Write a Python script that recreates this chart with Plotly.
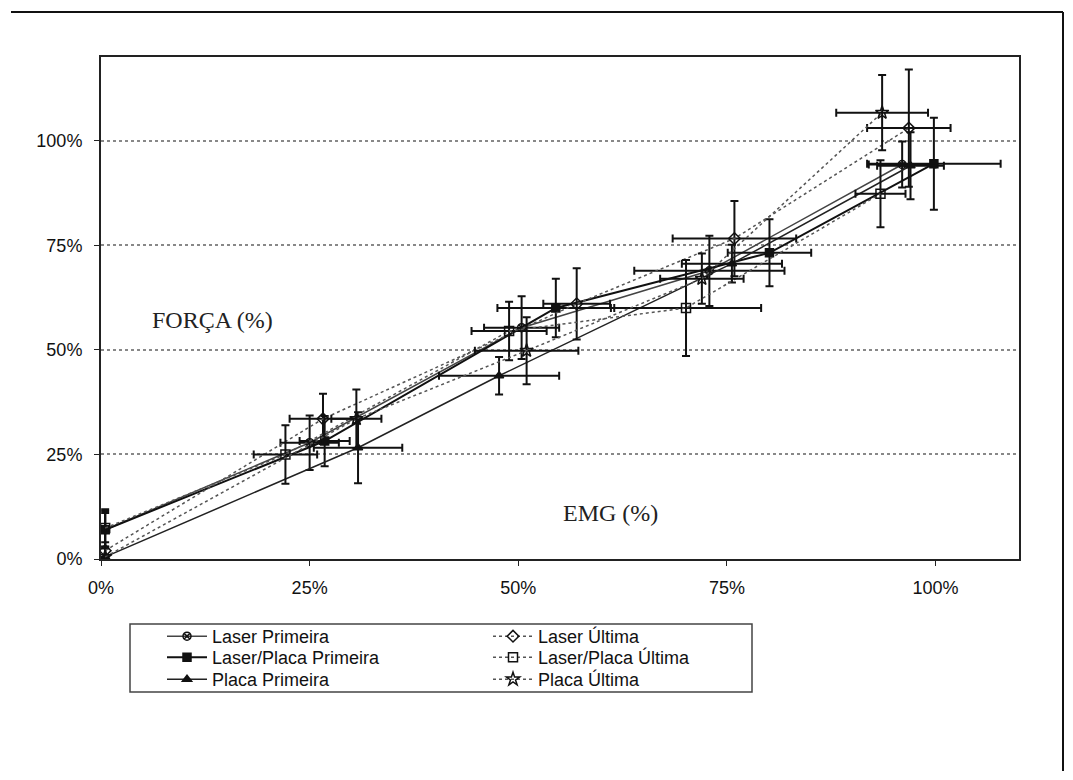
import plotly.graph_objects as go

# ---- data (percent) ----
series_names = ["Laser Primeira", "Laser/Placa Primeira", "Placa Primeira",
                "Laser Última", "Laser/Placa Última", "Placa Última"]

lp_x = [0.5, 25.0, 50.4, 72.9, 96.0]
lp_y = [7.0, 27.8, 55.3, 68.9, 94.3]
lp_xerr = [0.0, 3.5, 4.5, 9.0, 4.0]
lp_yerr = [4.0, 6.5, 7.5, 8.4, 5.5]

lpp_x = [0.5, 26.8, 54.5, 80.1, 99.8]
lpp_y = [7.0, 28.2, 60.0, 73.2, 94.5]
lpp_xerr = [0.0, 3.0, 7.0, 5.0, 8.0]
lpp_yerr = [4.5, 6.0, 7.0, 8.0, 11.0]

pp_x = [0.5, 30.8, 47.7, 75.6, 97.0]
pp_y = [0.5, 26.6, 43.8, 70.6, 94.0]
pp_xerr = [0.0, 5.3, 7.2, 6.0, 4.0]
pp_yerr = [0.0, 8.5, 4.5, 4.5, 8.0]

lu_x = [0.5, 26.6, 57.0, 75.9, 96.8]
lu_y = [2.0, 33.5, 61.0, 76.6, 103.0]
lu_xerr = [0.0, 4.0, 4.0, 7.4, 5.0]
lu_yerr = [2.0, 6.0, 8.5, 9.0, 14.0]

lpu_x = [0.5, 22.1, 48.9, 70.1, 93.4]
lpu_y = [7.4, 25.0, 54.5, 60.0, 87.3]
lpu_xerr = [0.0, 3.8, 4.5, 9.0, 3.0]
lpu_yerr = [4.5, 7.0, 7.0, 11.5, 8.0]

pu_x = [0.5, 30.6, 51.0, 72.0, 93.6]
pu_y = [0.5, 33.5, 49.8, 67.0, 106.7]
pu_xerr = [0.0, 3.0, 6.2, 5.0, 5.5]
pu_yerr = [0.0, 7.0, 8.0, 6.0, 9.0]

tick_vals = [0, 25, 50, 75, 100]
tick_labels = ["0%", "25%", "50%", "75%", "100%"]

# ---- figure geometry (page has an 8px body margin) ----
OFF = 8
W, H = 1073 - 2 * OFF, 780 - 2 * OFF
L = 101 - OFF
T = 57 - OFF
R = W - (1019 - OFF)
B = H - (559 - OFF)
pw, ph = W - L - R, H - T - B


def px_to_paper_x(px):
    return (px - OFF - L) / pw


def px_to_paper_y(py):
    return (H - B - (py - OFF)) / ph


fig = go.Figure()

# name, x, y, xerr, yerr, symbol, size, dash, line colour, width, legend id
styles = [
    (series_names[0], lp_x, lp_y, lp_xerr, lp_yerr, "circle-x-open", 8, "solid", "#444", 1.5, "legend"),
    (series_names[1], lpp_x, lpp_y, lpp_xerr, lpp_yerr, "square", 8, "solid", "#111", 2, "legend2"),
    (series_names[2], pp_x, pp_y, pp_xerr, pp_yerr, "triangle-up", 8, "solid", "#222", 1.5, "legend3"),
    (series_names[3], lu_x, lu_y, lu_xerr, lu_yerr, "diamond-open", 9, "dot", "#555", 1.5, "legend4"),
    (series_names[4], lpu_x, lpu_y, lpu_xerr, lpu_yerr, "square-open", 9, "dot", "#555", 1.5, "legend5"),
    (series_names[5], pu_x, pu_y, pu_xerr, pu_yerr, "star-open", 10, "dot", "#555", 1.5, "legend6"),
]

for name, xs, ys, xe, ye, sym, size, dash, col, lw, leg in styles:
    fig.add_trace(go.Scatter(
        x=xs, y=ys, name=name, mode="lines+markers", legend=leg,
        showlegend=True,
        line=dict(color=col, width=lw, dash=dash),
        marker=dict(symbol=sym, size=size, color="#111",
                    line=dict(color="#111", width=1.5)),
        error_x=dict(type="data", array=xe, visible=True, color="#111",
                     thickness=2, width=4),
        error_y=dict(type="data", array=ye, visible=True, color="#111",
                     thickness=2, width=4),
    ))

fig.add_annotation(x=13.4, y=57.2, xref="x", yref="y", text="FORÇA (%)",
                   showarrow=False,
                   font=dict(family="Liberation Serif", size=24, color="#222"))
fig.add_annotation(x=61.0, y=11.0, xref="x", yref="y", text="EMG (%)",
                   showarrow=False,
                   font=dict(family="Liberation Serif", size=24, color="#222"))

# outer frame lines and legend box
fig.add_shape(type="line", xref="paper", yref="paper",
              x0=px_to_paper_x(11), x1=px_to_paper_x(1063),
              y0=px_to_paper_y(12), y1=px_to_paper_y(12),
              line=dict(color="#111", width=2))
fig.add_shape(type="line", xref="paper", yref="paper",
              x0=px_to_paper_x(1063), x1=px_to_paper_x(1063),
              y0=px_to_paper_y(12), y1=px_to_paper_y(771),
              line=dict(color="#111", width=2))
fig.add_shape(type="rect", xref="paper", yref="paper",
              x0=px_to_paper_x(130), x1=px_to_paper_x(752),
              y0=px_to_paper_y(624), y1=px_to_paper_y(692),
              line=dict(color="#444", width=1.5))

legend_font = dict(family="Liberation Sans", size=18, color="#111")
tick_font = dict(family="Liberation Sans", size=18, color="#111")

row_centers = [636, 657, 679]
col_lefts = [162, 488]
legend_ids = ["legend", "legend2", "legend3", "legend4", "legend5", "legend6"]
legend_layout = {}
for i, lid in enumerate(legend_ids):
    col = i // 3
    row = i % 3
    legend_layout[lid] = dict(
        x=px_to_paper_x(col_lefts[col]), y=px_to_paper_y(row_centers[row] - 18),
        xanchor="left", yanchor="top", bgcolor="rgba(0,0,0,0)",
        font=legend_font, itemwidth=40, visible=True)

fig.update_layout(
    width=W, height=H,
    showlegend=True,
    margin=dict(l=L, r=R, t=T, b=B),
    paper_bgcolor="white", plot_bgcolor="white",
    font=dict(family="Liberation Sans", size=18, color="#111"),
    xaxis=dict(range=[0, 110], tickvals=tick_vals, ticktext=tick_labels,
               showgrid=False, zeroline=False,
               showline=True, linecolor="#222", linewidth=2, mirror=True,
               ticks="outside", ticklen=5, tickcolor="#222",
               ticklabelstandoff=6, tickfont=tick_font),
    yaxis=dict(range=[0, 120], tickvals=tick_vals, ticktext=tick_labels,
               showgrid=True, gridcolor="#888", griddash="dot", gridwidth=1.5,
               zeroline=False,
               showline=True, linecolor="#222", linewidth=2, mirror=True,
               ticks="outside", ticklen=5, tickcolor="#222",
               ticklabelstandoff=8, tickfont=tick_font),
    **legend_layout,
)

fig.write_html("out.html")
